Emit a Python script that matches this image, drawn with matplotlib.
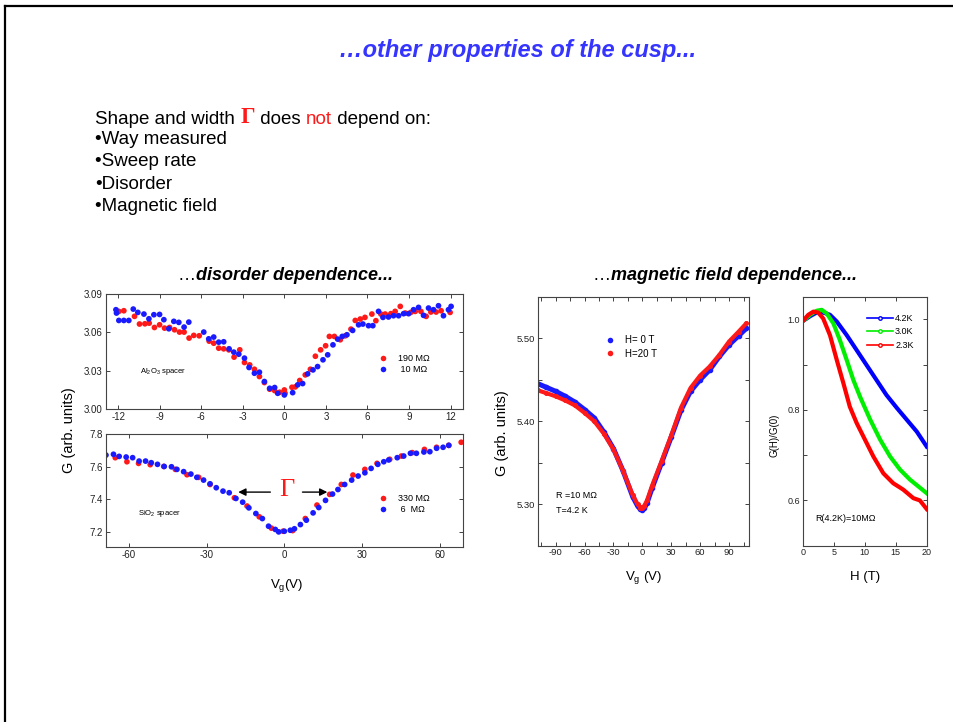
import matplotlib.pyplot as plt
from matplotlib.lines import Line2D
from matplotlib.ticker import MultipleLocator, FormatStrFormatter

plt.rcParams['font.family'] = ['Liberation Sans', 'DejaVu Sans']
plt.rcParams['axes.unicode_minus'] = False
plt.rcParams['mathtext.fontset'] = 'custom'
plt.rcParams['mathtext.rm'] = 'Liberation Sans'
plt.rcParams['mathtext.it'] = 'Liberation Sans:italic'

W, H = 954, 722

# ---- disorder dependence, Al2O3 spacer ----
al_red_x = [-11.95, -11.59, -10.82, -10.46, -10.07, -9.76, -9.38, -9.01, -8.65, -8.29,
            -7.93, -7.57, -7.24, -6.88, -6.54, -6.15, -5.43, -5.10, -4.74, -4.38,
            -4.01, -3.63, -3.22, -2.88, -2.50, -2.16, -1.80, -1.44, -1.06, -0.70,
            -0.34, 0.00, 0.05, 0.55, 0.79, 1.11, 1.51, 1.88, 2.24, 2.62,
            2.98, 3.25, 3.61, 4.04, 4.40, 4.81, 5.12, 5.48, 5.82, 6.32,
            6.61, 6.97, 7.28, 7.69, 8.00, 8.37, 8.73, 9.13, 9.45, 9.86,
            10.24, 10.58, 10.96, 11.32, 11.97]
al_red_y = [3.0764, 3.0769, 3.0725, 3.0665, 3.0667, 3.0672, 3.0638, 3.0659, 3.0633, 3.0638,
            3.0620, 3.0602, 3.0602, 3.0555, 3.0576, 3.0573, 3.0531, 3.0515, 3.0476, 3.0471,
            3.0463, 3.0406, 3.0463, 3.0364, 3.0345, 3.0311, 3.0254, 3.0207, 3.0155, 3.0144,
            3.0131, 3.0149, 3.0123, 3.0170, 3.0173, 3.0223, 3.0267, 3.0311, 3.0413, 3.0463,
            3.0495, 3.0568, 3.0568, 3.0542, 3.0573, 3.0625, 3.0693, 3.0704, 3.0717, 3.0743,
            3.0691, 3.0743, 3.0743, 3.0746, 3.0764, 3.0803, 3.0751, 3.0756, 3.0764, 3.0764,
            3.0725, 3.0759, 3.0759, 3.0769, 3.0756]
al_blue_x = [-12.16, -12.12, -11.95, -11.59, -11.23, -10.91, -10.58, -10.14, -9.78, -9.42,
             -9.01, -8.70, -8.34, -7.98, -7.62, -7.24, -6.90, -5.82, -5.46, -5.10,
             -4.74, -4.38, -3.99, -3.65, -3.29, -2.88, -2.55, -2.16, -1.80, -1.44,
             -1.06, -0.70, -0.48, 0.00, 0.60, 0.96, 1.32, 1.68, 2.07, 2.40,
             2.79, 3.13, 3.51, 3.85, 4.18, 4.52, 4.93, 5.36, 5.67, 6.08,
             6.39, 6.80, 7.12, 7.52, 7.88, 8.25, 8.61, 8.97, 9.33, 9.69,
             10.05, 10.41, 10.77, 11.13, 11.49, 11.85, 12.04]
al_blue_y = [3.0777, 3.0751, 3.0693, 3.0693, 3.0693, 3.0782, 3.0756, 3.0743, 3.0706, 3.0738,
             3.0740, 3.0699, 3.0628, 3.0686, 3.0678, 3.0641, 3.0680, 3.0602, 3.0549, 3.0563,
             3.0523, 3.0526, 3.0471, 3.0445, 3.0429, 3.0398, 3.0325, 3.0280, 3.0288, 3.0215,
             3.0162, 3.0168, 3.0123, 3.0110, 3.0128, 3.0189, 3.0199, 3.0275, 3.0306, 3.0332,
             3.0385, 3.0424, 3.0502, 3.0547, 3.0568, 3.0581, 3.0615, 3.0659, 3.0665, 3.0652,
             3.0652, 3.0764, 3.0717, 3.0720, 3.0730, 3.0730, 3.0746, 3.0746, 3.0777, 3.0795,
             3.0733, 3.0790, 3.0777, 3.0808, 3.0730, 3.0777, 3.0803]

# ---- disorder dependence, SiO2 spacer ----
si_red_x = [-65.3, -60.8, -56.3, -51.8, -46.6, -42.1, -37.6, -33.1, -28.7, -19.3,
            -14.4, -9.7, -5.0, -0.5, 3.2, 8.1, 12.6, 17.5, 22.0, 26.5,
            31.1, 35.8, 40.7, 45.2, 49.4, 54.1, 58.8, 63.5, 68.3]
si_red_y = [7.656, 7.631, 7.621, 7.613, 7.602, 7.584, 7.551, 7.535, 7.491, 7.409,
            7.358, 7.292, 7.222, 7.203, 7.207, 7.281, 7.364, 7.430, 7.491, 7.549,
            7.584, 7.621, 7.646, 7.666, 7.687, 7.707, 7.720, 7.732, 7.751]
si_blue_x = [-68.9, -66.0, -63.8, -61.1, -58.6, -56.1, -53.6, -51.4, -49.0, -46.4,
             -43.6, -41.5, -38.9, -36.1, -33.8, -31.2, -28.7, -26.3, -23.7, -21.3,
             -18.7, -16.1, -13.7, -11.0, -8.5, -6.1, -3.5, -2.2, 0.0, 2.3,
             3.9, 6.2, 8.5, 11.1, 13.3, 15.9, 18.6, 20.7, 23.3, 26.0,
             28.5, 31.1, 33.5, 36.1, 38.4, 40.3, 43.6, 46.1, 48.7, 51.0,
             53.9, 56.2, 58.8, 61.3, 63.5]
si_blue_y = [7.672, 7.677, 7.664, 7.660, 7.656, 7.635, 7.635, 7.625, 7.615, 7.602,
             7.600, 7.584, 7.570, 7.555, 7.535, 7.518, 7.495, 7.471, 7.450, 7.440,
             7.405, 7.382, 7.347, 7.312, 7.281, 7.234, 7.214, 7.199, 7.203, 7.209,
             7.218, 7.244, 7.271, 7.316, 7.349, 7.393, 7.432, 7.460, 7.491, 7.518,
             7.543, 7.563, 7.590, 7.615, 7.631, 7.642, 7.656, 7.666, 7.683, 7.683,
             7.691, 7.693, 7.714, 7.720, 7.732]

# ---- magnetic field dependence, G vs Vg ----
mf_vg = [-108, -100, -90, -80, -70, -60, -50, -40, -30, -20, -10, -5, -2, 0,
         2, 5, 10, 20, 30, 40, 50, 60, 70, 80, 90, 100, 108]
mf_g_0T = [5.445, 5.441, 5.436, 5.430, 5.423, 5.414, 5.404, 5.387, 5.367, 5.340, 5.309,
           5.298, 5.294, 5.293, 5.295, 5.302, 5.319, 5.350, 5.381, 5.413, 5.436,
           5.450, 5.462, 5.478, 5.492, 5.503, 5.512]
mf_g_20T = [5.437, 5.434, 5.430, 5.425, 5.419, 5.410, 5.400, 5.385, 5.366, 5.340, 5.311,
            5.300, 5.296, 5.296, 5.298, 5.305, 5.322, 5.352, 5.383, 5.416, 5.440,
            5.455, 5.466, 5.480, 5.496, 5.508, 5.518]

# ---- magnetoconductance G(H)/G(0) ----
h_42 = [0, 1.2, 2.26, 3.3, 4.4, 5.5, 7.1, 8.7, 10.3, 11.9, 13.5, 15.2, 16.8, 18.4, 20]
g_42 = [0.996, 1.007, 1.015, 1.015, 1.010, 0.995, 0.965, 0.932, 0.899, 0.866,
        0.833, 0.804, 0.778, 0.752, 0.719]
h_30 = [0, 1.2, 2.26, 3.06, 3.87, 4.95, 6.0, 7.1, 8.17, 9.25, 10.9, 12.5, 14.1, 15.7, 17.3, 20]
g_30 = [0.996, 1.010, 1.019, 1.021, 1.013, 0.991, 0.954, 0.910, 0.866, 0.829,
        0.778, 0.734, 0.697, 0.668, 0.646, 0.616]
h_23 = [0, 0.9, 1.72, 2.5, 3.3, 4.4, 5.5, 6.56, 7.6, 8.7, 10.05, 11.4, 13.0, 14.6,
        16.2, 17.85, 18.9, 20]
g_23 = [0.996, 1.010, 1.017, 1.015, 1.002, 0.965, 0.910, 0.859, 0.807, 0.771,
        0.734, 0.697, 0.660, 0.638, 0.624, 0.605, 0.600, 0.581]

RED = '#ff1a1a'
BLUE = '#1a1aff'
GREEN = '#00ee00'


def fx(x):
    return x / W


def fy(y):
    return 1 - y / H


def box(left, top, right, bottom):
    return [fx(left), fy(bottom), (right - left) / W, (bottom - top) / H]


def style(ax, size=7):
    ax.tick_params(which='both', direction='in', top=True, right=True,
                   labelsize=size, length=3, width=0.6, pad=2, colors='#222222')
    for s in ax.spines.values():
        s.set_linewidth(0.8)
        s.set_color('#444444')


def put_legend(ax, handles, labels, x, y, size, hl, pad, spacing):
    leg = ax.legend(handles, labels, loc='center left', bbox_to_anchor=(fx(x), fy(y)),
                    bbox_transform=ax.figure.transFigure, frameon=False, fontsize=size,
                    handlelength=hl, handletextpad=pad, labelspacing=spacing,
                    borderpad=0, borderaxespad=0, markerscale=1)
    return leg


fig = plt.figure(figsize=(W / 100, H / 100), dpi=100)
bg = fig.add_axes([0, 0, 1, 1])
bg.axis('off')
bg.set_xlim(0, 1)
bg.set_ylim(0, 1)

# slide frame
fig.add_artist(Line2D([fx(5), fx(953)], [fy(6), fy(6)], color='black', lw=1.6))
fig.add_artist(Line2D([fx(5), fx(5)], [fy(6), 0], color='black', lw=1.6))

fig.text(fx(518), fy(50), '…other properties of the cusp...', color='#3535ff',
         fontsize=17, fontweight='bold', fontstyle='italic', ha='center', va='center')

# body text with coloured words
t = bg.text(fx(95), fy(124), 'Shape and width ', fontsize=13.5, va='baseline')
parts = [('Γ', RED, 'Liberation Serif', 16.5, 'bold'),
         (' does ', 'black', 'Liberation Sans', 13.5, 'normal'),
         ('not', RED, 'Liberation Sans', 13.5, 'normal'),
         (' depend on:', 'black', 'Liberation Sans', 13.5, 'normal')]
prev = t
for txt, col, fam, sz, wt in parts:
    prev = bg.annotate(txt, xy=(1, 0), xycoords=prev, va='bottom', ha='left',
                       color=col, family=fam, fontsize=sz, fontweight=wt)
bullets = ['Way measured', 'Sweep rate', 'Disorder', 'Magnetic field']
for i, b in enumerate(bullets):
    bg.text(fx(95), fy(139.5 + 22.3 * i), '•' + b, fontsize=13.5, va='center')

# panel titles
for x0, label in [(178, 'disorder dependence...'), (593, 'magnetic field dependence...')]:
    e = bg.text(fx(x0), fy(276), '…', fontsize=13, va='center')
    bg.annotate(label, xy=(1, 0.5), xycoords=e, va='center', ha='left',
                fontsize=13, fontweight='bold', fontstyle='italic')

# ---- left column ----
ax1 = fig.add_axes(box(105.7, 294, 463, 409))
ax1.scatter(al_red_x, al_red_y, s=17, color=RED, edgecolors='none')
ax1.scatter(al_blue_x, al_blue_y, s=17, color=BLUE, edgecolors='none')
ax1.set_xlim(-12.9, 12.9)
ax1.set_ylim(3.0, 3.09)
ax1.xaxis.set_major_locator(MultipleLocator(3))
ax1.yaxis.set_major_locator(MultipleLocator(0.03))
ax1.yaxis.set_major_formatter(FormatStrFormatter('%.2f'))
style(ax1)
ax1.text(0.095, 0.33, 'Al$_2$O$_3$ spacer', transform=ax1.transAxes, fontsize=5.5, va='center')
h1 = [Line2D([], [], ls='none', marker='o', ms=4, color=RED, mec='none'),
      Line2D([], [], ls='none', marker='o', ms=4, color=BLUE, mec='none')]
put_legend(ax1, h1, ['190 MΩ', ' 10 MΩ'], 378.5, 364, 6.5, 1.0, 1.2, 0.2)

ax2 = fig.add_axes(box(105.7, 434.3, 463, 547.3))
ax2.scatter(si_red_x, si_red_y, s=17, color=RED, edgecolors='none')
ax2.scatter(si_blue_x, si_blue_y, s=17, color=BLUE, edgecolors='none')
ax2.set_xlim(-69, 69)
ax2.set_ylim(7.104, 7.8)
ax2.xaxis.set_major_locator(MultipleLocator(30))
ax2.yaxis.set_major_locator(MultipleLocator(0.2))
ax2.yaxis.set_major_formatter(FormatStrFormatter('%.1f'))
style(ax2)
ax2.text(0.09, 0.30, 'SiO$_2$ spacer', transform=ax2.transAxes, fontsize=5.5, va='center')
ax2.text(1.0, 7.456, 'Γ', color=RED, family='Liberation Serif', fontsize=19,
         ha='center', va='center')
arrow = dict(arrowstyle='-|>', color='black', lw=1.0, mutation_scale=11, shrinkA=0, shrinkB=0)
ax2.annotate('', xy=(-17.8, 7.444), xytext=(-5.4, 7.444), arrowprops=arrow)
ax2.annotate('', xy=(16.6, 7.444), xytext=(7.0, 7.444), arrowprops=arrow)
put_legend(ax2, h1, ['330 MΩ', ' 6  MΩ'], 378.5, 504, 6.5, 1.0, 1.2, 0.2)

fig.text(fx(69), fy(430), 'G (arb. units)', rotation=90, fontsize=10.5, ha='center', va='center')
fig.text(fx(287), fy(585), 'V$_{\\rm g}$(V)', fontsize=9.5, ha='center', va='center')

# ---- G vs Vg in field ----
ax3 = fig.add_axes(box(538.3, 296.7, 749.3, 545.7))
ax3.plot(mf_vg, mf_g_0T, color=BLUE, lw=3.6, marker='o', ms=3, solid_capstyle='round')
ax3.plot(mf_vg, mf_g_20T, color=RED, lw=3.0, marker='o', ms=2.6, solid_capstyle='round')
ax3.set_xlim(-108, 111)
ax3.set_ylim(5.25, 5.55)
ax3.xaxis.set_major_locator(MultipleLocator(30))
ax3.xaxis.set_minor_locator(MultipleLocator(15))
ax3.yaxis.set_major_locator(MultipleLocator(0.1))
ax3.yaxis.set_minor_locator(MultipleLocator(0.05))
ax3.yaxis.set_major_formatter(FormatStrFormatter('%.2f'))
style(ax3, 6.8)
h3 = [Line2D([], [], ls='none', marker='o', ms=4, color=BLUE, mec='none'),
      Line2D([], [], ls='none', marker='o', ms=4, color=RED, mec='none')]
put_legend(ax3, h3, ['H= 0 T', 'H=20 T'], 605, 347, 7, 1.0, 1.1, 0.35)
ax3.text(0.085, 0.20, 'R =10 MΩ', transform=ax3.transAxes, fontsize=6.5, va='center')
ax3.text(0.085, 0.14, 'T=4.2 K', transform=ax3.transAxes, fontsize=6.5, va='center')
fig.text(fx(502), fy(433), 'G (arb. units)', rotation=90, fontsize=10.5, ha='center', va='center')
fig.text(fx(643), fy(577), 'V$_{\\rm g}$ (V)', fontsize=9.5, ha='center', va='center')

# ---- G(H)/G(0) ----
ax4 = fig.add_axes(box(802.7, 296.7, 926.7, 545.7))
ax4.plot(h_42, g_42, color='#0000ff', lw=3.0)
ax4.plot(h_30, g_30, color=GREEN, lw=3.0)
ax4.plot(h_23, g_23, color='#ff0000', lw=3.0)
ax4.set_xlim(0, 20)
ax4.set_ylim(0.5, 1.05)
ax4.xaxis.set_major_locator(MultipleLocator(5))
ax4.yaxis.set_major_locator(MultipleLocator(0.2))
ax4.yaxis.set_minor_locator(MultipleLocator(0.1))
ax4.yaxis.set_major_formatter(FormatStrFormatter('%.1f'))
style(ax4, 6.5)
h4 = [Line2D([], [], color=c, lw=1.2, marker='o', ms=2.5, mfc='white')
      for c in ['#0000ff', GREEN, '#ff0000']]
put_legend(ax4, h4, ['4.2K', '3.0K', '2.3K'], 866.7, 331.7, 6.5, 2.95, 0.2, 0.5)
ax4.text(0.1, 0.11, 'R(4.2K)=10MΩ', transform=ax4.transAxes, fontsize=6.5, va='center')
fig.text(fx(775), fy(435), 'G(H)/G(0)', rotation=90, fontsize=7, ha='center', va='center')
fig.text(fx(865), fy(577), 'H (T)', fontsize=9.5, ha='center', va='center')

fig.savefig('out.png', dpi=100)
